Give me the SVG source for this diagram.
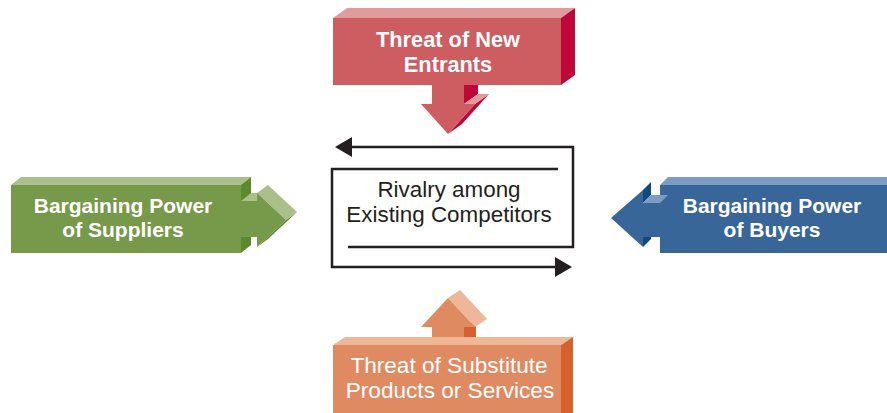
<svg xmlns="http://www.w3.org/2000/svg" width="887" height="413" viewBox="0 0 887 413">
<style>
.t{font-family:"Liberation Sans",Arial,sans-serif;fill:#fff;text-anchor:middle}
.b{font-weight:bold;font-size:21px}
.bt{font-weight:bold;font-size:21.8px}
.r{font-size:22.6px}
.c{font-family:"Liberation Sans",Arial,sans-serif;fill:#231f20;text-anchor:middle;font-size:22.4px}
.rf{fill:#cd5d60}.rl{fill:#e29b9c}.rd{fill:#c0073a}
.gf{fill:#76994a}.gl{fill:#a9c08a}.gd{fill:#5b8a2c}
.bf{fill:#386699}.bl{fill:#7d9cc4}.bd{fill:#104a80}
.of{fill:#e08a62}.ol{fill:#eeb898}.od{fill:#d5612f}
.ln{fill:none;stroke:#231f20;stroke-width:2.5}
.ah{fill:#231f20}
</style>
<rect width="887" height="413" fill="#fff"/>

<g id="new-entrants">
<polygon class="rl" points="333,18 347,8 575,8 561,18"/>
<polygon class="rd" points="561,18 575,8 575,75 561,85"/>
<rect class="rf" x="333" y="18" width="228" height="67"/>
<polygon class="rd" points="464,85 478,85 478,94 464,104"/>
<polygon class="rd" points="475,104 489,94 462,124 448,134"/>
<polygon class="rl" points="464,104 475,104 489,94 478,94"/>
<rect class="rf" x="432" y="85" width="32" height="20"/>
<polygon class="rf" points="421,104 475,104 448,134"/>
<text class="t bt" x="448" y="47">Threat of New</text>
<text class="t bt" x="448" y="72">Entrants</text>
</g>

<g id="suppliers">
<polygon class="gl" points="11,185 21,177 251,177 241,185"/>
<polygon class="gd" points="241,185 251,177 251,245 241,253"/>
<rect class="gf" x="11" y="185" width="230" height="68"/>
<polygon class="gl" points="241,201 251,193 267,193 257,201"/>
<rect class="gf" x="241" y="201" width="17" height="36"/>
<polygon class="gd" points="257,247 286,220 297,212 268,239"/>
<polygon class="gl" points="257,193 268,185 297,212 286,220"/>
<polygon class="gf" points="257,193 286,220 257,247"/>
<text class="t b" x="123" y="213">Bargaining Power</text>
<text class="t b" x="123" y="237">of Suppliers</text>
</g>

<g id="buyers">
<polygon class="bl" points="660,185 668,177 887,177 887,185"/>
<rect class="bf" x="660" y="185" width="227" height="68"/>
<polygon class="bd" points="643,190 651,182 651,195 643,203"/>
<polygon class="bd" points="643,237 651,229 651,239 643,247"/>
<polygon class="bl" points="643,203 651,195 668,195 660,203"/>
<rect class="bf" x="643" y="203" width="18" height="34"/>
<polygon class="bf" points="643,190 611,218 643,247"/>
<text class="t b" x="772" y="213">Bargaining Power</text>
<text class="t b" x="772" y="237">of Buyers</text>
</g>

<g id="substitutes">
<polygon class="od" points="464,327 476,319 476,337 464,345"/>
<polygon class="ol" points="448,298 460,290 487,319 475,327"/>
<polygon class="of" points="421,327 448,298 475,327"/>
<rect class="of" x="432" y="326" width="32" height="20"/>
<polygon class="ol" points="333,345 345,337 573,337 561,345"/>
<polygon class="od" points="561,345 573,337 573,413 561,413"/>
<rect class="of" x="333" y="345" width="228" height="68"/>
<text class="t r" x="449" y="373">Threat of Substitute</text>
<text class="t r" x="450" y="398">Products or Services</text>
</g>

<g id="rivalry">
<text class="c" x="449" y="197">Rivalry among</text>
<text class="c" x="449" y="222">Existing Competitors</text>
</g>

<g id="connectors">
<path class="ln" d="M558,169 H332 V267 H558"/>
<polygon class="ah" points="572,267 555,257 555,277"/>
<path class="ln" d="M348,247 H573 V147 H349"/>
<polygon class="ah" points="335,147 352,137 352,157"/>
</g>
</svg>
